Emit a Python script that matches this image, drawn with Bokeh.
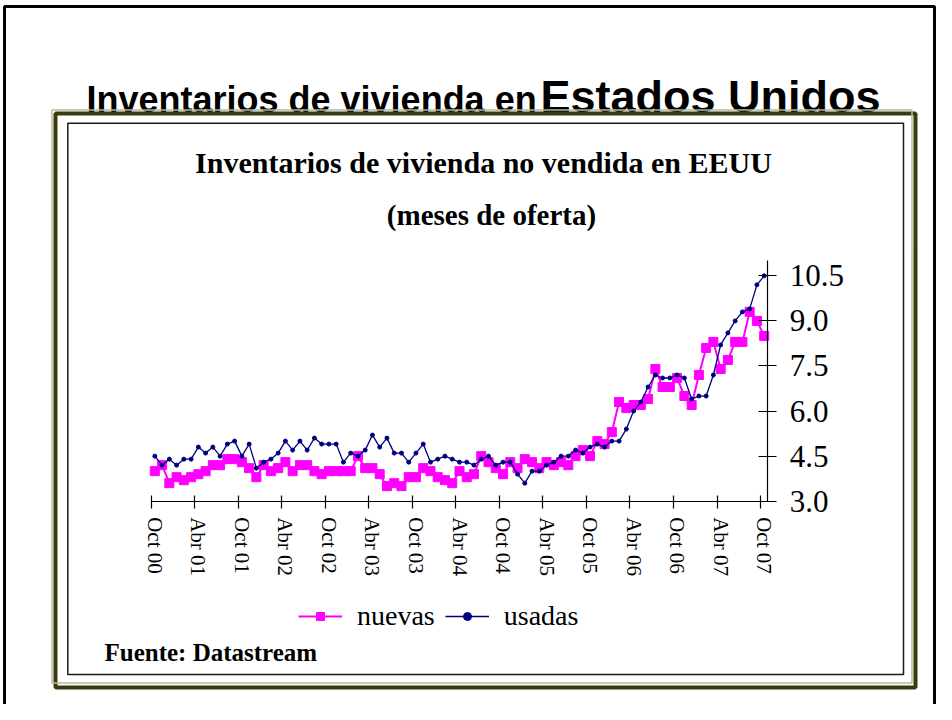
from bokeh.plotting import figure
from bokeh.models import (FixedTicker, Label, BoxAnnotation, Legend, LegendItem,
                          NumeralTickFormatter, Range1d, LinearAxis)
from bokeh.embed import file_html
from bokeh.resources import INLINE

# Monthly data, Oct 2000 .. Oct 2007 (months of supply)
nuevas = [4.0, 4.2, 3.6, 3.8, 3.7, 3.8, 3.9, 4.0, 4.2, 4.2, 4.4, 4.4, 4.3, 4.1, 3.8,
          4.2, 4.0, 4.1, 4.3, 4.0, 4.2, 4.2, 4.0, 3.9, 4.0, 4.0, 4.0, 4.0, 4.5, 4.1,
          4.1, 3.9, 3.5, 3.6, 3.5, 3.8, 3.8, 4.1, 4.0, 3.8, 3.7, 3.6, 4.0, 3.8, 3.9,
          4.5, 4.3, 4.1, 3.9, 4.3, 4.1, 4.4, 4.3, 4.1, 4.3, 4.2, 4.3, 4.2, 4.5, 4.7,
          4.5, 5.0, 4.9, 5.3, 6.3, 6.1, 6.2, 6.2, 6.4, 7.4, 6.8, 6.8, 7.1, 6.5, 6.2,
          7.2, 8.1, 8.3, 7.4, 7.7, 8.3, 8.3, 9.3, 9.0, 8.5]
usadas = [4.5, 4.2, 4.4, 4.2, 4.4, 4.4, 4.8, 4.6, 4.8, 4.5, 4.9, 5.0, 4.5, 4.9, 4.1,
          4.3, 4.4, 4.6, 5.0, 4.7, 5.0, 4.7, 5.1, 4.9, 4.9, 4.9, 4.3, 4.6, 4.5, 4.7,
          5.2, 4.8, 5.1, 4.6, 4.6, 4.3, 4.6, 4.9, 4.3, 4.4, 4.5, 4.4, 4.3, 4.3, 4.2,
          4.4, 4.5, 4.2, 4.3, 4.3, 3.9, 3.6, 4.0, 4.0, 4.2, 4.3, 4.5, 4.5, 4.7, 4.6,
          4.8, 4.9, 4.8, 5.0, 5.0, 5.4, 6.0, 6.3, 6.8, 7.2, 7.1, 7.1, 7.2, 7.1, 6.4,
          6.5, 6.5, 7.2, 8.2, 8.6, 9.0, 9.3, 9.4, 10.2, 10.5]
months = list(range(len(nuevas)))
tick_labels = ["Oct 00", "Abr 01", "Oct 01", "Abr 02", "Oct 02", "Abr 03", "Oct 03",
               "Abr 04", "Oct 04", "Abr 05", "Oct 05", "Abr 06", "Oct 06", "Abr 07", "Oct 07"]
tick_values = [6 * k for k in range(len(tick_labels))]
y_ticks = [3.0, 4.5, 6.0, 7.5, 9.0, 10.5]
y_min, y_max = 3.0, 11.0

SERIF = "Liberation Serif"
SANS = "Liberation Sans"

W, H = 936, 704
# plot area inside the canvas (pixels)
PL, PR, PT, PB = 150.7, 767.3, 260.3, 500.7
x_lo, x_hi = -0.5, len(months) - 0.5
kx = (PR - PL) / (x_hi - x_lo)
ky = (PB - PT) / (y_max - y_min)

p = figure(width=W, height=H, output_backend="svg", toolbar_location=None,
           x_range=Range1d(0, W), y_range=Range1d(0, H),
           x_axis_location=None, y_axis_location=None,
           min_border=0, min_border_left=0, min_border_right=0,
           min_border_top=0, min_border_bottom=0)
p.outline_line_color = None
p.grid.visible = False
p.background_fill_color = "white"
p.border_fill_color = "white"
p.extra_x_ranges = {"dx": Range1d(x_lo - PL / kx, x_lo + (W - PL) / kx)}
p.extra_y_ranges = {"dy": Range1d(y_min - (H - PB) / ky, y_min + PB / ky)}

xa = LinearAxis(x_range_name="dx", y_range_name="dy", fixed_location=y_min,
                bounds=(x_lo, x_hi))
xa.ticker = FixedTicker(ticks=tick_values, minor_ticks=[t - 0.5 for t in tick_values])
xa.major_label_overrides = {t: lab for t, lab in zip(tick_values, tick_labels)}
xa.major_label_orientation = "vertical"
xa.major_tick_line_color = None
xa.major_tick_in = 0
xa.major_tick_out = 7
xa.minor_tick_line_color = "black"
xa.minor_tick_line_width = 1.2
xa.minor_tick_in = 6
xa.minor_tick_out = 7
xa.axis_line_color = "black"
xa.axis_line_width = 1.2
xa.major_label_standoff = 9
xa.major_label_text_font = SERIF
xa.major_label_text_font_size = "21px"
xa.major_label_text_color = "black"
p.add_layout(xa, "below")

ya = LinearAxis(x_range_name="dx", y_range_name="dy", fixed_location=x_hi,
                bounds=(y_min, y_max))
ya.ticker = FixedTicker(ticks=y_ticks)
ya.formatter = NumeralTickFormatter(format="0.0")
ya.major_tick_in = 9
ya.major_tick_out = 9
ya.major_tick_line_color = "black"
ya.major_tick_line_width = 1.2
ya.minor_tick_line_color = None
ya.axis_line_color = "black"
ya.axis_line_width = 1.2
ya.major_label_standoff = 13
ya.major_label_text_font = SERIF
ya.major_label_text_font_size = "31px"
ya.major_label_text_color = "black"
p.add_layout(ya, "right")

r1 = p.line(months, nuevas, line_color="#FF00FF", line_width=2,
            x_range_name="dx", y_range_name="dy")
r2 = p.scatter(months, nuevas, marker="square", size=9, fill_color="#FF00FF",
               line_color="#FF00FF", x_range_name="dx", y_range_name="dy")
r3 = p.line(months, usadas, line_color="#000080", line_width=1.3,
            x_range_name="dx", y_range_name="dy")
r4 = p.scatter(months, usadas, marker="circle", size=4, fill_color="#000080",
               line_color="#000080", x_range_name="dx", y_range_name="dy")

legend = Legend(items=[LegendItem(label="nuevas", renderers=[r1, r2]),
                       LegendItem(label="usadas", renderers=[r3, r4])],
                orientation="horizontal", location=(298, 72),
                label_text_font=SERIF, label_text_font_size="28px",
                label_text_color="black", glyph_width=44, glyph_height=20,
                label_standoff=15, spacing=10, padding=0, margin=0,
                border_line_color=None, background_fill_alpha=0)
p.add_layout(legend, "center")

def canvas_label(x, y, text, font, size, bold=True, align="left"):
    return Label(x=x, y=y, x_units="canvas", y_units="canvas", text=text,
                 text_font=font, text_font_size=size,
                 text_font_style="bold" if bold else "normal",
                 text_align=align, text_baseline="alphabetic", text_color="black")

p.add_layout(canvas_label(86, 98.5, "Inventarios de vivienda en", SANS, "36px"))
p.add_layout(canvas_label(540, 95.5, "Estados Unidos", SANS, "45px"))
p.add_layout(canvas_label(483, 161.5, "Inventarios de vivienda no vendida en EEUU", SERIF, "30px", align="center"))
p.add_layout(canvas_label(491, 214, "(meses de oferta)", SERIF, "29px", align="center"))
p.add_layout(canvas_label(104, 651.5, "Fuente: Datastream", SERIF, "25px"))

def canvas_box(l, t, r, b, color, width):
    return BoxAnnotation(left=l, right=r, top=t, bottom=b,
                         left_units="canvas", right_units="canvas",
                         top_units="canvas", bottom_units="canvas",
                         fill_color=None, fill_alpha=0, line_color=color,
                         line_alpha=1.0, line_width=width)

# slide border
p.add_layout(canvas_box(4, 6, 934, 780, "black", 3))
# chart frame (olive double border)
p.add_layout(canvas_box(55, 113, 915, 687, "#3a3a0e", 4))
p.add_layout(canvas_box(51.5, 109.5, 911.5, 682.5, "#b8b8a4", 1.5))
# inner chart box
p.add_layout(canvas_box(67.3, 122.7, 903, 674, "#1a1a1a", 1.5))

open("out.html", "w").write(file_html(p, INLINE))
